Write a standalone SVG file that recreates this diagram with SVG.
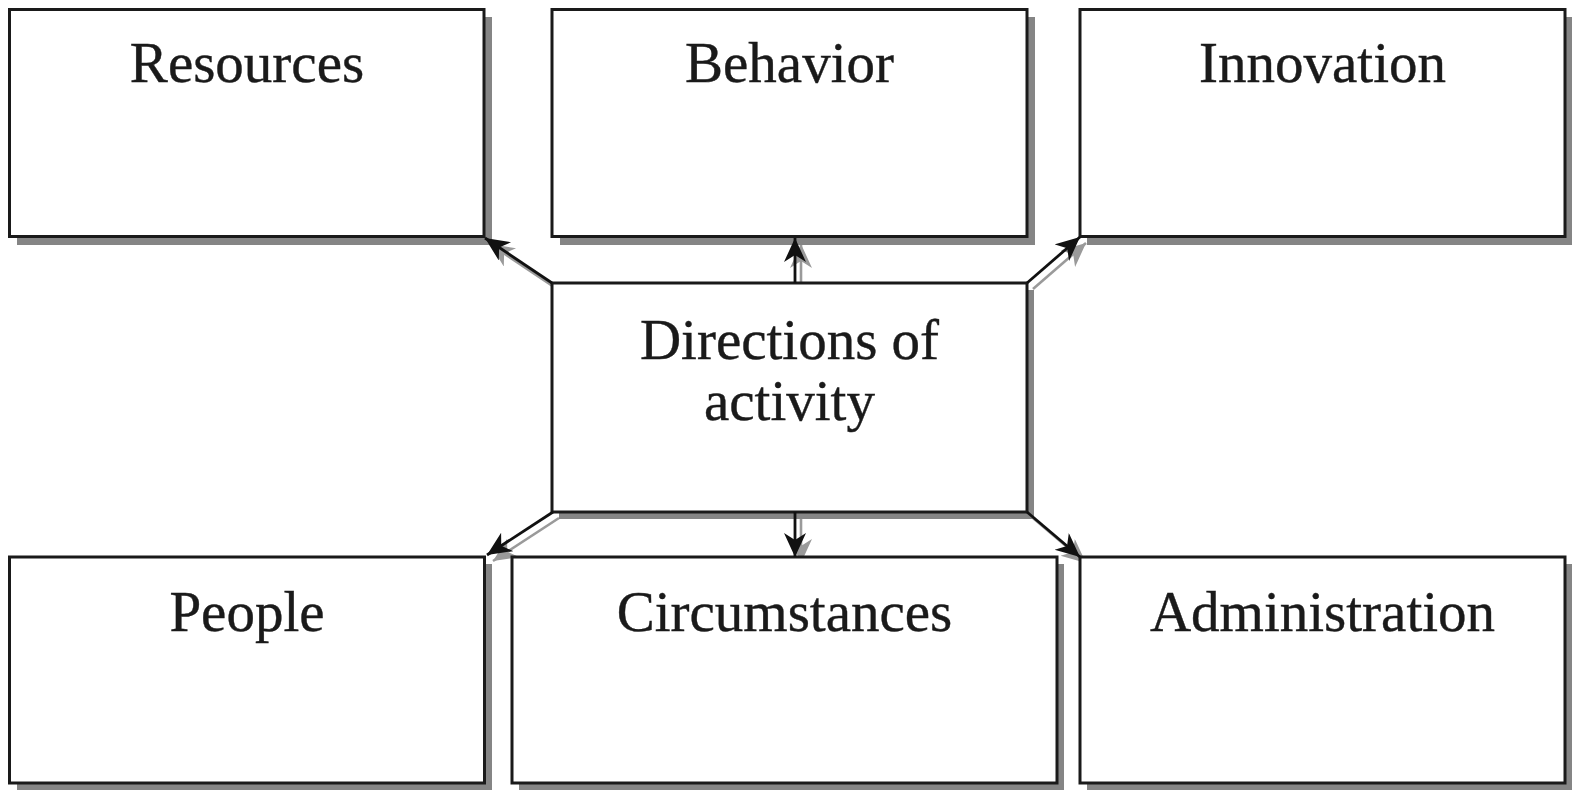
<svg xmlns="http://www.w3.org/2000/svg" width="1577" height="790" viewBox="0 0 1577 790">
<defs>
<style>
.shadow{fill:#858585;stroke:none}
.box{fill:#ffffff;stroke:#1a1a1a;stroke-width:3}
.lbl{font-family:"Liberation Serif","Times New Roman",serif;font-size:57px;fill:#1a1a1a;stroke:#1a1a1a;stroke-width:0.4;text-anchor:middle}
.conn{stroke:#111;stroke-width:2.8;fill:none;marker-end:url(#ah)}
.connsh{stroke:#9a9a9a;stroke-width:2.6;fill:none;marker-end:url(#ahs)}
</style>
<marker id="ah" markerUnits="userSpaceOnUse" markerWidth="28" markerHeight="24" refX="24" refY="11" orient="auto">
<path d="M0,0 L24,11 L0,22 L7,11 z" fill="#111"/>
</marker>
<marker id="ahs" markerUnits="userSpaceOnUse" markerWidth="28" markerHeight="24" refX="24" refY="11" orient="auto">
<path d="M0,0 L24,11 L0,22 L7,11 z" fill="#9a9a9a"/>
</marker>
</defs>
<rect width="1577" height="790" fill="#ffffff"/>

<g id="connectors">
<line class="connsh" x1="557" y1="289" x2="490" y2="244"/>
<line class="connsh" x1="801" y1="297" x2="801" y2="244"/>
<line class="connsh" x1="1033" y1="289" x2="1086" y2="243"/>
<line class="connsh" x1="559" y1="518" x2="493" y2="561"/>
<line class="connsh" x1="801" y1="518" x2="801" y2="563"/>
<line class="connsh" x1="1033" y1="518" x2="1086" y2="563"/>
</g>

<g id="resources">
<rect class="shadow" x="17" y="17" width="475" height="228"/>
<rect class="box" x="9.5" y="9.5" width="474.5" height="227"/>
<text class="lbl" x="247" y="82">Resources</text>
</g>
<g id="behavior">
<rect class="shadow" x="560" y="17" width="475" height="228"/>
<rect class="box" x="552" y="9.5" width="475" height="227"/>
<text class="lbl" x="789.5" y="82">Behavior</text>
</g>
<g id="innovation">
<rect class="shadow" x="1087" y="17" width="485" height="228"/>
<rect class="box" x="1080" y="9.5" width="485" height="227"/>
<text class="lbl" x="1322.5" y="82">Innovation</text>
</g>
<g id="directions">
<rect class="shadow" x="559" y="290" width="475" height="229"/>
<rect class="box" x="552" y="283" width="475" height="229"/>
<text class="lbl" x="789.5" y="359">Directions of</text>
<text class="lbl" x="789.5" y="420">activity</text>
</g>
<g id="people">
<rect class="shadow" x="17" y="564" width="475" height="228"/>
<rect class="box" x="9.5" y="557" width="475" height="226"/>
<text class="lbl" x="247" y="631">People</text>
</g>
<g id="circumstances">
<rect class="shadow" x="519" y="564" width="545" height="228"/>
<rect class="box" x="512" y="557" width="545" height="226"/>
<text class="lbl" x="784.5" y="631">Circumstances</text>
</g>
<g id="administration">
<rect class="shadow" x="1087" y="564" width="485" height="228"/>
<rect class="box" x="1080" y="557" width="485" height="226"/>
<text class="lbl" x="1322.5" y="631">Administration</text>
</g>

<g id="connectors-front">
<line class="conn" x1="552" y1="283" x2="485" y2="238"/>
<line class="conn" x1="795" y1="283" x2="795" y2="238"/>
<line class="conn" x1="1027" y1="283" x2="1080" y2="237"/>
<line class="conn" x1="553" y1="512" x2="487" y2="555"/>
<line class="conn" x1="795" y1="512" x2="795" y2="557"/>
<line class="conn" x1="1027" y1="512" x2="1080" y2="557"/>
</g>
</svg>
